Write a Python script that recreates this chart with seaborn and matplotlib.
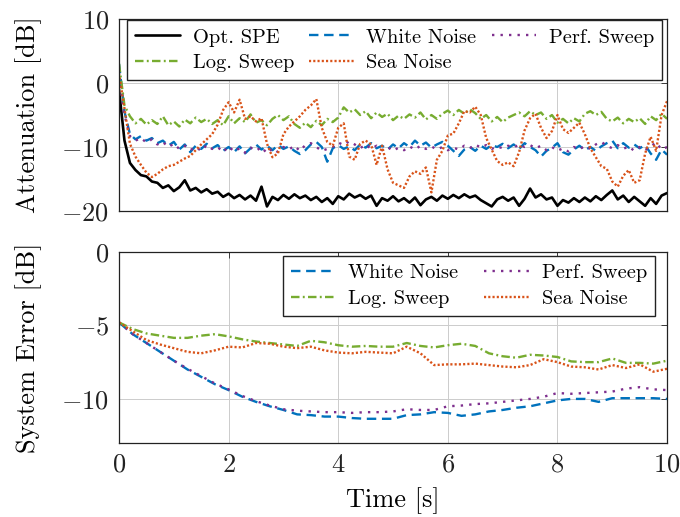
import numpy as np
import pandas as pd
import matplotlib.pyplot as plt
import seaborn as sns

# time axes (s)
t_top = np.linspace(0, 10, 101)
t_bot = np.linspace(0, 10, 41)

# Attenuation [dB], sampled every 0.1 s
att_opt_spe = [
    -1.0, -9.0, -12.5, -13.6, -14.4, -14.6, -15.4, -15.6, -16.4, -16.0,
    -16.9, -16.3, -15.2, -16.8, -16.4, -17.1, -16.6, -17.3, -17.0, -17.8,
    -17.3, -18.0, -17.5, -18.2, -17.6, -18.4, -16.2, -19.3, -17.8, -18.3,
    -17.5, -18.1, -17.4, -18.0, -17.6, -18.3, -17.8, -18.6, -18.0, -18.9,
    -17.7, -18.2, -17.3, -17.9, -17.5, -18.1, -17.6, -19.2, -18.0, -18.4,
    -17.7, -18.5, -18.0, -18.7, -17.9, -19.1, -18.2, -17.8, -18.4, -17.6,
    -18.1, -17.5, -18.0, -17.4, -17.9, -17.6, -18.3, -18.8, -19.3, -18.2,
    -17.8, -18.4, -17.9, -19.2, -18.1, -16.5, -17.9, -17.4, -18.2, -17.9,
    -19.2, -18.3, -18.7, -18.0, -18.6, -17.9, -18.5, -17.7, -18.3, -17.5,
    -16.8, -18.2, -17.6, -18.6, -17.8, -18.5, -19.2, -18.0, -18.9, -17.6,
    -17.2]
att_log_sweep = [
    3.0, -3.5, -5.2, -6.3, -5.6, -6.5, -5.8, -6.4, -5.2, -6.6,
    -6.0, -6.8, -5.7, -6.3, -5.4, -6.1, -5.6, -6.4, -5.8, -6.6,
    -5.2, -6.3, -5.5, -6.1, -4.9, -6.2, -5.8, -6.6, -5.6, -5.0,
    -5.8, -5.2, -6.4, -7.0, -6.2, -6.9, -5.9, -6.6, -5.6, -6.1,
    -5.4, -3.8, -4.6, -4.1, -5.0, -4.4, -5.5, -4.6, -5.3, -4.8,
    -5.8, -5.1, -5.6, -4.9, -5.4, -4.6, -5.7, -5.0, -5.6, -4.8,
    -4.3, -5.0, -4.2, -4.8, -4.1, -4.7, -5.6, -5.0, -6.0, -5.3,
    -6.1, -5.4, -5.0, -4.6, -5.2, -4.4, -5.0, -4.6, -5.6, -5.0,
    -6.2, -5.6, -6.3, -5.5, -6.0, -4.8, -4.4, -5.0, -4.5, -5.6,
    -6.0, -5.4, -6.3, -5.6, -6.1, -5.5, -6.4, -5.2, -5.8, -4.8,
    -5.6]
att_white_noise = [
    3.0, -4.5, -8.0, -8.8, -8.3, -9.0, -8.6, -9.4, -9.0, -9.8,
    -9.2, -10.4, -9.6, -10.8, -9.8, -10.3, -9.5, -10.2, -9.7, -10.6,
    -10.0, -10.8, -9.9, -11.0, -10.2, -9.6, -10.4, -9.8, -10.5, -9.7,
    -10.3, -9.9, -10.6, -11.1, -10.5, -9.6, -9.2, -10.0, -12.3, -10.2,
    -9.7, -10.3, -9.9, -10.5, -9.6, -10.1, -9.4, -10.2, -9.8, -10.4,
    -9.6, -10.2, -9.4, -10.0, -9.0, -9.8, -9.3, -10.1, -9.6, -9.2,
    -9.8, -10.6, -11.4, -10.4, -10.0, -10.6, -9.8, -10.3, -9.7, -10.0,
    -9.5, -10.2, -9.6, -10.3, -9.4, -10.0, -10.5, -11.5, -10.6, -10.1,
    -9.4, -10.8, -11.2, -10.4, -9.8, -10.5, -10.0, -10.6, -9.9, -9.4,
    -9.0, -10.2, -9.4, -10.1, -9.6, -10.2, -9.7, -11.0, -12.0, -10.4,
    -11.2]
att_perf_sweep = [
    1.0, -5.0, -8.3, -9.0, -8.6, -9.3, -8.8, -9.6, -9.2, -10.0,
    -9.5, -10.3, -9.8, -10.5, -10.0, -10.6, -9.7, -10.3, -10.0, -10.8,
    -9.9, -10.7, -10.2, -10.9, -10.1, -10.6, -10.0, -11.0, -10.2, -10.8,
    -10.0, -10.4, -9.8, -10.6, -9.7, -9.4, -10.0, -10.6, -10.3, -10.0,
    -9.3, -9.7, -9.1, -9.6, -10.2, -9.6, -10.3, -9.8, -10.5, -10.0,
    -10.6, -10.1, -10.5, -9.9, -10.4, -9.8, -10.3, -9.9, -10.4, -10.0,
    -10.5, -10.1, -10.4, -9.8, -10.2, -9.6, -10.1, -9.7, -10.3, -9.9,
    -10.2, -9.8, -10.1, -9.6, -10.0, -9.7, -10.2, -9.8, -10.5, -10.0,
    -10.6, -10.2, -10.7, -10.0, -10.4, -9.8, -10.3, -9.6, -9.2, -9.8,
    -10.2, -9.7, -10.3, -9.9, -10.6, -10.0, -10.5, -9.9, -9.3, -10.4,
    -10.0]
att_sea_noise = [
    1.5, -4.0, -9.5, -11.5, -12.8, -14.0, -14.7, -14.2, -13.5, -13.0,
    -12.8, -12.3, -11.8, -11.4, -10.5, -9.6, -8.8, -8.0, -6.5, -4.2,
    -3.0, -4.6, -2.6, -5.6, -5.2, -6.0, -5.5, -9.5, -11.6, -11.0,
    -8.0, -6.8, -6.0, -5.2, -4.2, -3.5, -2.5, -7.0, -9.2, -9.8,
    -7.0, -6.3, -11.5, -12.0, -9.5, -9.0, -9.6, -12.8, -9.8, -13.5,
    -15.6, -16.0, -16.4, -14.6, -13.8, -14.2, -13.2, -17.1, -12.0, -10.6,
    -8.2, -7.9, -6.3, -4.4, -4.6, -3.7, -5.0, -8.6, -10.4, -12.2,
    -12.8, -12.4, -13.0, -10.8, -7.4, -5.5, -4.8, -7.0, -8.6, -7.5,
    -5.0, -7.2, -7.8, -7.0, -6.2, -8.0, -10.2, -11.6, -13.0, -13.4,
    -15.4, -16.2, -14.5, -13.6, -15.6, -15.2, -11.0, -8.4, -10.6, -5.0,
    -2.8]

# System Error [dB], sampled every 0.25 s
err_white_noise = [
    -4.8, -5.6, -6.2, -6.8, -7.4, -8.0, -8.5, -9.0, -9.4, -9.85,
    -10.2, -10.5, -10.75, -11.05, -11.1, -11.2, -11.2, -11.3, -11.35, -11.35,
    -11.35, -11.1, -11.05, -10.9, -10.95, -11.15, -11.05, -10.85, -10.75, -10.6,
    -10.5, -10.3, -10.1, -10.0, -10.0, -10.2, -9.95, -9.95, -9.95, -9.95,
    -10.0]
err_perf_sweep = [
    -4.8, -5.6, -6.2, -6.8, -7.4, -7.95, -8.45, -8.95, -9.35, -9.8,
    -10.15, -10.45, -10.7, -10.8, -10.85, -10.9, -10.9, -10.95, -10.9, -10.9,
    -10.85, -10.7, -10.75, -10.75, -10.5, -10.45, -10.35, -10.3, -10.2, -10.1,
    -10.0, -9.85, -9.6, -9.65, -9.6, -9.55, -9.5, -9.3, -9.2, -9.35,
    -9.4]
err_log_sweep = [
    -4.8, -5.25, -5.55, -5.7, -5.85, -5.85, -5.7, -5.6, -5.75, -5.95,
    -6.1, -6.2, -6.3, -6.4, -6.05, -6.15, -6.35, -6.45, -6.4, -6.45,
    -6.45, -6.2, -6.4, -6.5, -6.35, -6.25, -6.4, -6.9, -7.1, -7.2,
    -7.0, -7.05, -7.15, -7.45, -7.5, -7.5, -7.25, -7.55, -7.55, -7.6,
    -7.4]
err_sea_noise = [
    -4.8, -5.4, -6.0, -6.3, -6.55, -6.8, -6.9, -6.7, -6.45, -6.5,
    -6.2, -6.25, -6.45, -6.55, -6.45, -6.7, -6.85, -6.9, -6.8, -6.85,
    -6.9, -6.45, -6.9, -7.7, -7.65, -7.65, -7.6, -7.7, -7.8, -7.85,
    -7.7, -7.3, -7.5, -7.8, -7.85, -8.0, -7.7, -7.9, -7.65, -8.15,
    -7.95]

styles = {
    "Opt. SPE": dict(color="black", ls="-", lw=1.9),
    "White Noise": dict(color="#0072BD", ls=(0, (4, 2.4)), lw=1.7),
    "Perf. Sweep": dict(color="#7E2F8E", ls=(0, (1, 2.6)), lw=1.7),
    "Log. Sweep": dict(color="#77AC30", ls=(0, (3.6, 1.4, 0.8, 1.4)), lw=1.7),
    "Sea Noise": dict(color="#D95319", ls=(0, (0.9, 0.9)), lw=1.7),
}

sns.set_theme(style="whitegrid")
plt.rcParams.update({
    "font.family": "serif",
    "font.serif": ["cmr10"],
    "mathtext.fontset": "cm",
    "axes.formatter.use_mathtext": True,
    "font.size": 19,
    "axes.edgecolor": "#222222",
    "axes.linewidth": 0.9,
    "grid.color": "#cccccc",
    "grid.linewidth": 0.7,
    "xtick.direction": "in",
    "ytick.direction": "in",
    "xtick.top": True,
    "ytick.right": True,
    "xtick.major.size": 4,
    "ytick.major.size": 4,
    "xtick.major.width": 0.6,
    "ytick.major.width": 0.6,
    "xtick.color": "#222222",
    "ytick.color": "#222222",
    "axes.labelcolor": "black",
    "text.color": "black",
})

fig = plt.figure(figsize=(6.8, 5.17), dpi=100)
ax1 = fig.add_axes([0.175, 0.592, 0.806, 0.371])
ax2 = fig.add_axes([0.175, 0.143, 0.806, 0.370])

top = {
    "Opt. SPE": att_opt_spe,
    "White Noise": att_white_noise,
    "Perf. Sweep": att_perf_sweep,
    "Log. Sweep": att_log_sweep,
    "Sea Noise": att_sea_noise,
}
for name, vals in top.items():
    st = styles[name]
    sns.lineplot(x=t_top, y=vals, ax=ax1, color=st["color"], linestyle=st["ls"],
                 linewidth=st["lw"], label=name, estimator=None)

bot = {
    "White Noise": err_white_noise,
    "Perf. Sweep": err_perf_sweep,
    "Log. Sweep": err_log_sweep,
    "Sea Noise": err_sea_noise,
}
for name, vals in bot.items():
    st = styles[name]
    sns.lineplot(x=t_bot, y=vals, ax=ax2, color=st["color"], linestyle=st["ls"],
                 linewidth=st["lw"], label=name, estimator=None)

for ax in (ax1, ax2):
    ax.set_xlim(0, 10)
    ax.set_xticks([0, 2, 4, 6, 8, 10])
    ax.grid(True)
    ax.tick_params(labelsize=19, pad=7)
    for sp in ax.spines.values():
        sp.set_visible(True)

ax1.set_ylim(-20, 10)
ax1.set_yticks([-20, -10, 0, 10])
ax1.tick_params(labelbottom=False)
ax1.set_ylabel("Attenuation [dB]", fontsize=19, labelpad=14)

ax2.set_ylim(-13, 0)
ax2.set_yticks([-10, -5, 0])
ax2.set_ylabel("System Error [dB]", fontsize=19, labelpad=14)
ax2.set_xlabel("Time [s]", fontsize=19, labelpad=8)

leg_kw = dict(loc="upper left", mode="expand", borderaxespad=0, fontsize=14.7,
              frameon=True, fancybox=False, edgecolor="#222222", framealpha=1,
              handlelength=2.2, handletextpad=0.6, columnspacing=0.6,
              labelspacing=0.35)

h1, l1 = ax1.get_legend_handles_labels()
hd1 = dict(zip(l1, h1))
order1 = ["Opt. SPE", "Log. Sweep", "White Noise", "Sea Noise", "Perf. Sweep"]
ax1.legend([hd1[k] for k in order1], order1, ncol=3,
           bbox_to_anchor=(0.015, 0.995, 0.976, 0.0), **leg_kw)

h2, l2 = ax2.get_legend_handles_labels()
hd2 = dict(zip(l2, h2))
order2 = ["White Noise", "Log. Sweep", "Perf. Sweep", "Sea Noise"]
ax2.legend([hd2[k] for k in order2], order2, ncol=2,
           bbox_to_anchor=(0.299, 0.979, 0.679, 0.0), **leg_kw)

fig.savefig("out.png", dpi=100)
